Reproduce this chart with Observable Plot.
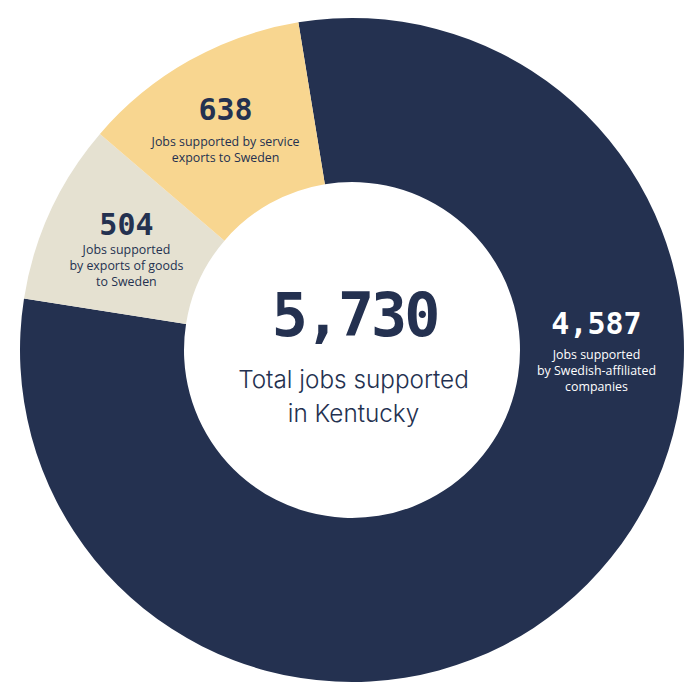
<!DOCTYPE html>
<html>
<head>
<meta charset="utf-8">
<script src="https://cdn.jsdelivr.net/npm/d3@7"></script>
<script src="https://cdn.jsdelivr.net/npm/@observablehq/plot@0.6"></script>
<style>
  html, body { margin: 0; padding: 0; background: #ffffff; }
  #chart { width: 700px; height: 700px; }
</style>
</head>
<body>
<div id="chart"></div>
<script>
// ---- data ----
const categories = ["Swedish-affiliated companies", "Exports of goods to Sweden", "Service exports to Sweden"];
const values = [4587, 504, 638];
const valueLabels = ["4,587", "504", "638"];
const descriptions = [
  "Jobs supported\nby Swedish-affiliated\ncompanies",
  "Jobs supported\nby exports of goods\nto Sweden",
  "Jobs supported by service\nexports to Sweden"
];
const totalLabel = "5,730";
const totalText = "Total jobs supported\nin Kentucky";

// ---- styling / layout ----
const sliceColors = ["#243150", "#e5e1d1", "#f8d690"];
const navy = "#243150";
const outerR = 332, innerR = 168;
const startAngle = -9.3 * Math.PI / 180;
const descSize = 12.4;
const descLine = 16;
const labelLayout = [
  {angle: Math.PI / 2, r: 244, numDy: -17, descDy: -3, color: "#ffffff"},
  {r: 249, numDy: -11, descDy: -3.5, color: navy},
  {r: 259, numDy: -4.4, descDy: 10, color: navy}
];

const rows = categories.map((c, i) => ({category: c, value: values[i], label: valueLabels[i], desc: descriptions[i]}));
const arcs = d3.pie().sort(null).value(d => d.value)
  .startAngle(startAngle).endAngle(startAngle + 2 * Math.PI)(rows);

const labelRows = arcs.map((a, i) => {
  const L = labelLayout[i];
  const ang = L.angle ?? (a.startAngle + a.endAngle) / 2;
  return {...a.data, ...L, x: L.r * Math.sin(ang), y: -L.r * Math.cos(ang)};
});

const color = Plot.scale({color: {domain: categories, range: sliceColors}});

const donutMark = (index, scales) => {
  const cx = scales.x(0), cy = scales.y(0);
  const k = scales.x(1) - scales.x(0);
  const arc = d3.arc().innerRadius(innerR * k).outerRadius(outerR * k);
  const g = d3.create("svg:g").attr("transform", `translate(${cx},${cy})`);
  g.selectAll("path").data(arcs).join("path")
    .attr("d", arc)
    .attr("fill", d => color.apply(d.data.category));
  return g.node();
};

const labelMarks = labelRows.flatMap(d => [
  Plot.text([d], {
    x: "x", y: r => r.y + r.numDy, text: "label",
    lineAnchor: "bottom", textAnchor: "middle",
    fontFamily: "DejaVu Sans Mono", fontWeight: "bold", fontSize: 30,
    fill: d.color
  }),
  Plot.text([d], {
    x: "x", y: r => r.y + r.descDy, text: "desc",
    lineAnchor: "top", textAnchor: "middle", lineHeight: descLine / descSize,
    fontFamily: "Open Sans", fontSize: descSize, fill: d.color
  })
]);

const chart = Plot.plot({
  width: 700,
  height: 700,
  margin: 0,
  x: {domain: [-352, 348], range: [0, 700], axis: null},
  y: {domain: [-350, 350], range: [0, 700], axis: null},
  style: {background: "#ffffff"},
  marks: [
    donutMark,
    ...labelMarks,
    Plot.text([totalLabel], {
      x: 2, y: -15, text: d => d, lineAnchor: "bottom", textAnchor: "middle",
      fontFamily: "DejaVu Sans Mono", fontWeight: "bold", fontSize: 60, fill: navy
    }),
    Plot.text([totalText], {
      x: 1, y: 13, text: d => d, lineAnchor: "top", textAnchor: "middle",
      lineHeight: 34 / 24.3, fontFamily: "Inter", fontWeight: 300, fontSize: 24.3, fill: navy
    })
  ]
});

document.getElementById("chart").appendChild(chart);
d3.select(chart).selectAll("text").filter(function() { return this.textContent === totalLabel; })
  .attr("letter-spacing", "-3px");
</script>
</body>
</html>
